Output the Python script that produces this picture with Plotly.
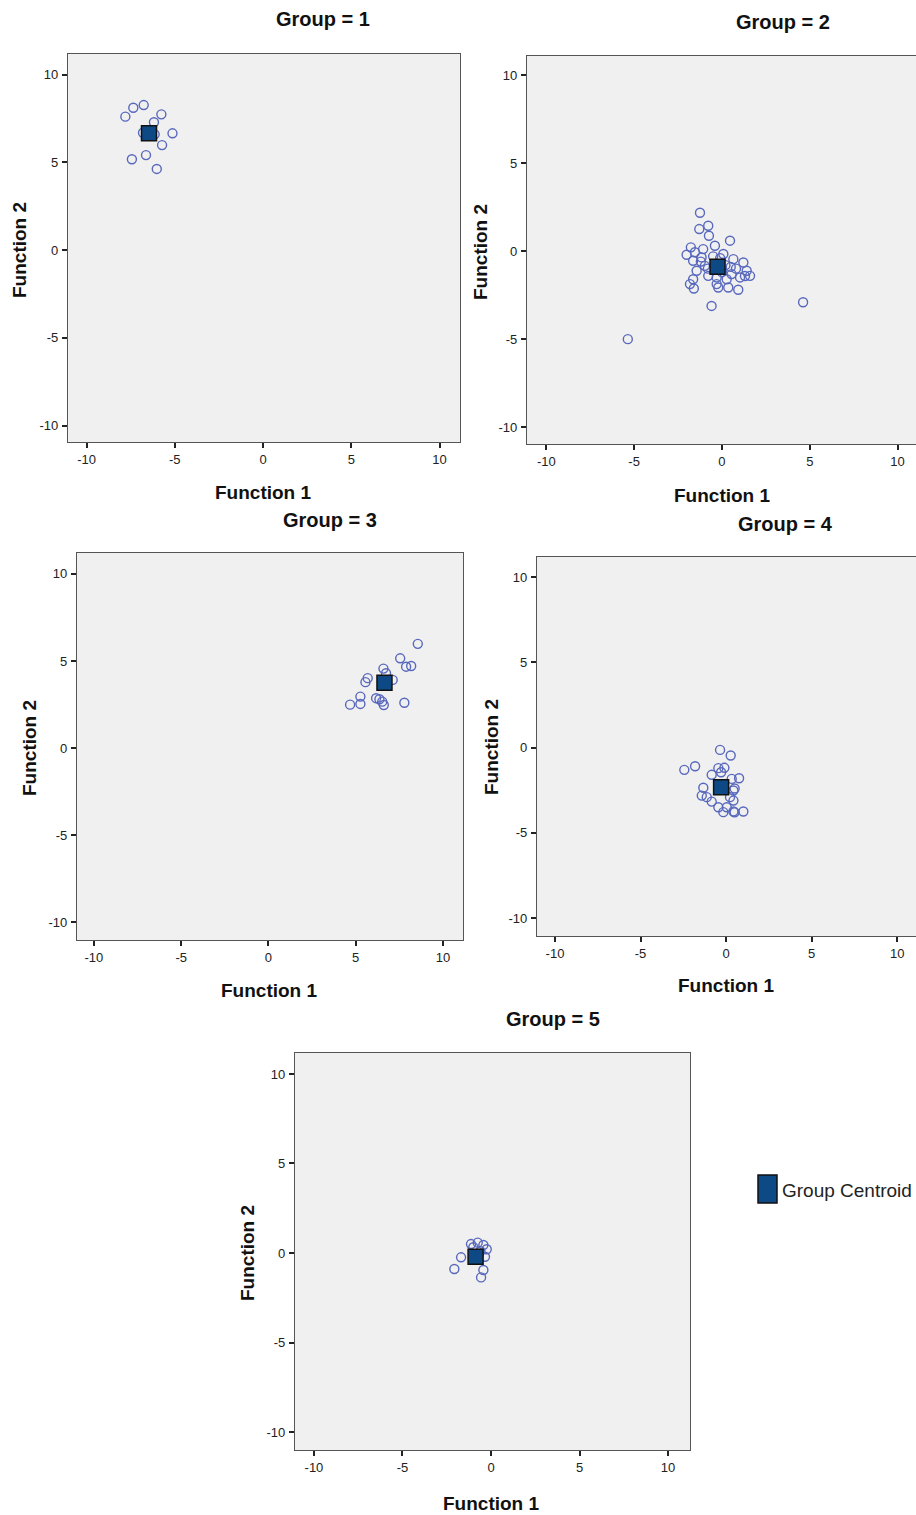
import plotly.graph_objects as go

# ---------------- data ----------------
g1_x = [-7.80, -7.35, -6.76, -5.76, -6.18, -6.14, -6.80, -5.13, -5.72, -6.63, -7.43, -6.02]
g1_y = [7.60, 8.11, 8.26, 7.73, 7.28, 6.59, 6.68, 6.65, 5.98, 5.41, 5.17, 4.62]

g2_x = [-1.25, -1.29, -0.78, -0.74, 0.46, -1.77, -2.01, -1.54, -1.07, -0.40, 0.08, -1.64, -1.16,
        0.65, 1.22, -1.44, -0.97, 1.41, 1.60, 1.03, -1.64, -1.82, -1.60, -0.78, -0.30, -0.21,
        0.27, 0.36, 0.55, 0.93, -0.59, -5.36, 4.62, -0.50, 0.20, -0.80, 0.50, -0.30, 0.80,
        -1.20, 1.31, -0.10, 0.00]
g2_y = [2.18, 1.25, 1.44, 0.87, 0.59, 0.21, -0.21, -0.07, 0.11, 0.30, -0.17, -0.55, -0.36,
        -0.46, -0.65, -1.12, -0.84, -1.12, -1.41, -1.50, -1.60, -1.88, -2.13, -1.41, -1.88, -2.07,
        -1.60, -2.07, -1.31, -2.20, -3.12, -5.01, -2.91, -0.30, -0.80, -1.00, -0.90, -1.50, -1.00,
        -0.60, -1.42, -0.40, -1.20]

g3_x = [8.56, 7.55, 7.89, 8.18, 6.59, 5.69, 5.56, 7.12, 6.74, 5.27, 5.27, 4.68, 6.17, 6.36, 6.52, 6.61, 7.79]
g3_y = [5.98, 5.15, 4.67, 4.71, 4.56, 4.01, 3.78, 3.91, 4.29, 2.95, 2.53, 2.49, 2.86, 2.80, 2.66, 2.47, 2.60]

g4_x = [-0.35, 0.27, -2.44, -1.81, -0.45, -0.10, -0.84, -0.29, 0.33, 0.76, -1.33, 0.43, 0.50,
        -1.42, -1.13, -0.84, 0.23, 0.43, -0.45, 0.04, -0.16, 0.43, 1.01, 0.50]
g4_y = [-0.14, -0.47, -1.31, -1.10, -1.21, -1.19, -1.60, -1.45, -1.84, -1.80, -2.36, -2.52, -2.40,
        -2.82, -2.91, -3.17, -2.91, -3.11, -3.50, -3.50, -3.79, -3.75, -3.75, -3.80]

g5_x = [-1.13, -0.75, -0.43, -0.24, -1.00, -1.69, -0.34, -2.07, -0.43, -0.56, -0.60]
g5_y = [0.50, 0.58, 0.45, 0.21, 0.32, -0.24, -0.21, -0.89, -0.95, -1.36, 0.10]

cent_x = [-6.46, -0.25, 6.65, -0.29, -0.87]
cent_y = [6.65, -0.89, 3.75, -2.33, -0.21]

groups = ["1", "2", "3", "4", "5"]
tick_vals = [-10, -5, 0, 5, 10]
tick_text = ["-10", "-5", "0", "5", "10"]

# ---------------- layout geometry (pixels) ----------------
W, H = 916, 1515
# (left, right, top, bottom) of each plot area
boxes = [
    (68, 460, 54, 442),
    (527, 916, 56, 444),
    (77, 463, 553, 940),
    (537, 916, 557, 936),
    (295, 690, 1053, 1450),
]
title_pos = [(323, 19), (783, 22), (330, 520), (785, 524), (553, 1019)]
xt_pos = [(263, 493), (722, 495), (269, 990), (726, 986), (491, 1503)]
yt_pos = [(19, 250), (480, 252), (29, 748), (491, 747), (247, 1253)]
ranges_x = [(-11.05, 11.16), (-11.1, 11.05), (-10.97, 11.15), (-11.05, 11.1), (-11.07, 11.24)]
ranges_y = [(-10.94, 11.17), (-10.97, 11.09), (-11.03, 11.2), (-11.05, 11.17), (-11.0, 11.17)]

xs = [g1_x, g2_x, g3_x, g4_x, g5_x]
ys = [g1_y, g2_y, g3_y, g4_y, g5_y]

fig = go.Figure()
layout = {}
annotations = []
FONT = "Liberation Sans, Arial, sans-serif"


def ann(text, px, py, size, angle=0, xanchor="center", family=FONT, color="#111111"):
    return dict(text=text, x=px / W, y=1 - py / H, xref="paper", yref="paper",
                xanchor=xanchor, yanchor="middle", showarrow=False, textangle=angle,
                font=dict(family=family, size=size, color=color))


for i in range(5):
    n = "" if i == 0 else str(i + 1)
    xa, ya = "x" + n, "y" + n
    fig.add_trace(go.Scatter(
        x=xs[i], y=ys[i], mode="markers", xaxis=xa, yaxis=ya, showlegend=False,
        marker=dict(symbol="circle-open", size=9, color="#5868bd", line=dict(width=1.4, color="#5868bd")),
        hoverinfo="skip"))
    fig.add_trace(go.Scatter(
        x=[cent_x[i]], y=[cent_y[i]], mode="markers", xaxis=xa, yaxis=ya, showlegend=False,
        marker=dict(symbol="square", size=15, color="#0d4a85", line=dict(width=1.5, color="#111111")),
        hoverinfo="skip"))
    l, r, t, b = boxes[i]
    common = dict(showgrid=False, zeroline=False, showline=True, mirror=True,
                  linecolor="#555555", linewidth=1.3, ticks="outside", ticklen=5, tickwidth=1.5,
                  tickcolor="#222222", tickvals=tick_vals, ticktext=tick_text,
                  tickfont=dict(family=FONT, size=13, color="#222222"))
    layout["xaxis" + n] = dict(domain=[l / W, min(r / W, 1.0)], range=list(ranges_x[i]),
                               anchor=ya, **common)
    layout["yaxis" + n] = dict(domain=[1 - b / H, 1 - t / H], range=list(ranges_y[i]),
                               anchor=xa, ticklabelstandoff=1, **common)
    tx, ty = title_pos[i]
    annotations.append(ann("<b>Group = %s</b>" % groups[i], tx, ty, 20))
    ax_, ay_ = xt_pos[i]
    annotations.append(ann("<b>Function 1</b>", ax_, ay_, 19))
    bx, by = yt_pos[i]
    annotations.append(ann("<b>Function 2</b>", bx, by, 19, angle=-90))

# legend (drawn manually)
annotations.append(ann("Group Centroid", 780, 1190, 19, xanchor="left",
                       family="Liberation Sans Narrow, Arial Narrow, " + FONT, color="#222222"))
shapes = [dict(type="rect", xref="paper", yref="paper", x0=758 / W, x1=777 / W,
               y0=1 - 1203 / H, y1=1 - 1175 / H, fillcolor="#0d4a85",
               line=dict(color="#111111", width=1.5))]

fig.update_layout(width=W, height=H, margin=dict(l=0, r=0, t=0, b=0),
                  paper_bgcolor="white", plot_bgcolor="#f0f0f0",
                  annotations=annotations, shapes=shapes, **layout)
fig.write_html("out.html", config={"displayModeBar": False},
               post_script="document.body.style.margin='0';document.body.style.overflow='hidden';")
